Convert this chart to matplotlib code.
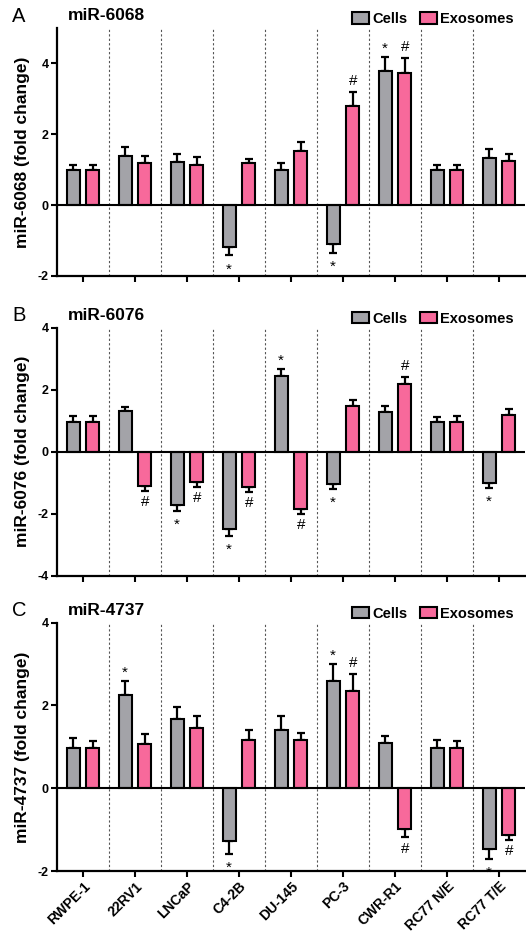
import numpy as np
import matplotlib
matplotlib.use('Agg')
import matplotlib.pyplot as plt
import matplotlib.transforms as mtransforms

plt.rcParams['font.family'] = ['Liberation Sans', 'DejaVu Sans']

lines = ['RWPE-1', '22RV1', 'LNCaP', 'C4-2B', 'DU-145', 'PC-3', 'CWR-R1', 'RC77 N/E', 'RC77 T/E']

# miR-6068
a_cells = [1.0, 1.4, 1.21, -1.18, 0.99, -1.09, 3.8, 0.98, 1.32]
a_cells_err = [0.14, 0.25, 0.23, 0.24, 0.2, 0.25, 0.39, 0.14, 0.27]
a_exo = [0.98, 1.18, 1.13, 1.18, 1.53, 2.79, 3.73, 0.98, 1.26]
a_exo_err = [0.14, 0.21, 0.24, 0.13, 0.24, 0.41, 0.43, 0.16, 0.18]
a_cells_sig = [3, 5, 6]
a_exo_sig = [5, 6]

# miR-6076
b_cells = [0.97, 1.30, -1.72, -2.49, 2.43, -1.05, 1.28, 0.97, -1.01]
b_cells_err = [0.17, 0.15, 0.19, 0.24, 0.23, 0.15, 0.21, 0.16, 0.17]
b_exo = [0.97, -1.10, -0.99, -1.14, -1.85, 1.47, 2.17, 0.97, 1.2]
b_exo_err = [0.17, 0.17, 0.15, 0.17, 0.15, 0.19, 0.24, 0.18, 0.19]
b_cells_sig = [2, 3, 4, 5, 8]
b_exo_sig = [1, 2, 3, 4, 6]

# miR-4737
c_cells = [0.98, 2.25, 1.67, -1.28, 1.40, 2.58, 1.09, 0.98, -1.47]
c_cells_err = [0.23, 0.35, 0.29, 0.31, 0.34, 0.42, 0.17, 0.19, 0.23]
c_exo = [0.98, 1.07, 1.46, 1.16, 1.17, 2.34, -0.99, 0.98, -1.12]
c_exo_err = [0.15, 0.24, 0.29, 0.24, 0.17, 0.42, 0.20, 0.15, 0.14]
c_cells_sig = [1, 3, 5, 8]
c_exo_sig = [5, 6, 8]

GREY = '#a3a3a8'
PINK = '#f7699b'
W, H = 526, 934


def draw_panel(ax, letter, mir, cells, cells_err, exo, exo_err, cells_sig, exo_sig,
               ylim, yticks, top_px, show_labels):
    x = np.arange(len(lines))
    off, bw = 0.19, 0.25
    for xs, vals, errs, col, lab, sig, sym in [
            (x - off, cells, cells_err, GREY, 'Cells', cells_sig, '*'),
            (x + off, exo, exo_err, PINK, 'Exosomes', exo_sig, '#')]:
        vals = np.array(vals)
        errs = np.array(errs)
        lo = np.where(vals < 0, errs, 0)
        hi = np.where(vals >= 0, errs, 0)
        ax.errorbar(xs, vals, yerr=[lo, hi], fmt='none', ecolor='black',
                    elinewidth=1.6, capsize=3, capthick=1.6, zorder=2)
        ax.bar(xs, vals, width=bw, color=col, edgecolor='black', linewidth=1.5,
               label=lab, zorder=3)
        for i in sig:
            v = vals[i]
            end = v + errs[i] if v >= 0 else v - errs[i]
            dy = 8 if v >= 0 else -8
            if sym == '*':
                dy = 6 if v >= 0 else -10
            ax.annotate(sym, (xs[i], end), xytext=(0, dy), textcoords='offset points',
                        ha='center', va='center', fontsize=11, zorder=4)

    for s in np.arange(0.5, len(lines) - 1, 1.0):
        ax.axvline(s, color='#555555', lw=0.8, ls=(0, (2, 2)), zorder=1)
    ax.axhline(0, color='black', lw=1.5, zorder=4)

    ax.set_xlim(-0.5, len(lines) - 0.5)
    ax.set_ylim(*ylim)
    ax.set_yticks(yticks)
    ax.set_yticklabels([str(t) for t in yticks], fontsize=9, fontweight='bold')
    ax.set_xticks(x)
    if show_labels:
        ax.set_xticklabels(lines, rotation=45, ha='right', va='top',
                           rotation_mode='anchor', fontsize=10, fontweight='bold')
        shift = mtransforms.ScaledTranslation(3 / 100, 3 / 100, ax.figure.dpi_scale_trans)
        for lbl in ax.get_xticklabels():
            lbl.set_transform(lbl.get_transform() + shift)
    else:
        ax.set_xticklabels([])
    for sp in ['top', 'right']:
        ax.spines[sp].set_visible(False)
    for sp in ['left', 'bottom']:
        ax.spines[sp].set_linewidth(1.6)
    ax.tick_params(width=1.5, length=4, direction='out', pad=2)

    fig = ax.figure
    yc = 1 - (top_px - 12) / H
    fig.text(12 / W, yc, letter, fontsize=14.5, ha='left', va='center')
    fig.text(68 / W, yc, mir, fontsize=12.5, fontweight='bold', ha='left', va='center')
    pos = ax.get_position()
    fig.text(22.5 / W, (pos.y0 + pos.y1) / 2, mir + ' (fold change)', rotation=90,
             fontsize=12.5, fontweight='bold', ha='center', va='center')
    ax.legend(loc='center right', bbox_to_anchor=(521 / W, 1 - (top_px - 9) / H),
              bbox_transform=fig.transFigure, ncol=2, frameon=False,
              prop={'size': 10.5, 'weight': 'bold'}, handlelength=1.15,
              handleheight=0.85, handletextpad=0.2, columnspacing=0.9, borderpad=0)


fig = plt.figure(figsize=(W / 100, H / 100), dpi=100)
left, width = 57 / W, 468 / W
axA = fig.add_axes([left, 1 - 276 / H, width, 248 / H])
axB = fig.add_axes([left, 1 - 575.7 / H, width, 248 / H])
axC = fig.add_axes([left, 1 - 871 / H, width, 248.3 / H])

draw_panel(axA, 'A', 'miR-6068', a_cells, a_cells_err, a_exo, a_exo_err, a_cells_sig, a_exo_sig,
           (-2, 5), [-2, 0, 2, 4], 28, False)
draw_panel(axB, 'B', 'miR-6076', b_cells, b_cells_err, b_exo, b_exo_err, b_cells_sig, b_exo_sig,
           (-4, 4), [-4, -2, 0, 2, 4], 327.7, False)
draw_panel(axC, 'C', 'miR-4737', c_cells, c_cells_err, c_exo, c_exo_err, c_cells_sig, c_exo_sig,
           (-2, 4), [-2, 0, 2, 4], 622.7, True)

fig.savefig('out.png', dpi=100)
